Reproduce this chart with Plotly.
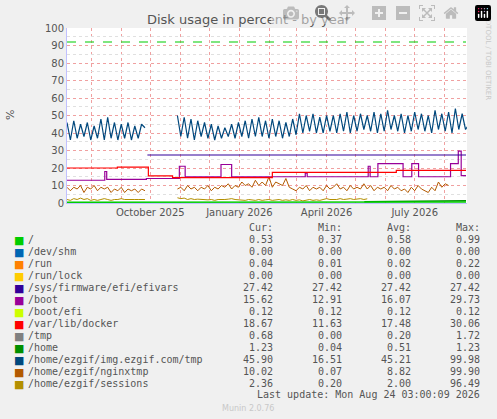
import pandas as pd
import plotly.graph_objects as go

# sampled every 84h, two segments (gap in Oct 2025)
seg1_start = "2025-07-07"
seg2_start = "2025-10-29"

imgtmp_1 = [46, 36, 47, 37, 45, 38, 46, 36, 44, 37, 48, 36, 49, 37, 46, 36, 45, 37, 46, 36, 44, 37, 45, 43]
imgtmp_2 = [50, 38, 49, 37, 48, 36, 47, 38, 46, 37, 45, 36, 44, 37, 43, 38, 45, 37, 46, 38, 47, 37, 48, 38,
            49, 38, 47, 37, 48, 38, 47, 37, 46, 38, 48, 39, 51, 40, 50, 41, 51, 40, 49, 40, 50, 41, 50, 40,
            51, 41, 52, 40, 50, 41, 51, 42, 50, 41, 52, 40, 51, 41, 53, 42, 50, 41, 51, 40, 50, 41, 52, 42,
            51, 41, 50, 40, 53, 42, 51, 41, 52, 40, 54, 42, 51, 42, 45]
nginx_1 = [9, 7, 9, 8, 10, 6, 9, 8, 10, 7, 9, 8, 9, 6, 8, 7, 9, 6, 8, 7, 8, 6, 8, 7]
nginx_2 = [8, 9, 7, 10, 8, 9, 7, 9, 8, 10, 7, 9, 8, 10, 9, 11, 8, 10, 9, 12, 10, 11, 9, 13, 10, 12, 10, 15,
           9, 12, 11, 10, 14, 9, 8, 7, 9, 8, 10, 7, 9, 8, 9, 7, 10, 8, 9, 11, 8, 9, 7, 10, 8, 9, 8, 11, 8,
           10, 7, 9, 8, 9, 7, 10, 8, 9, 7, 8, 6, 9, 7, 10, 8, 7, 6, 9, 7, 12, 9, 11, 10]
sess_1 = [2, 1.5, 2.5, 2, 2.8, 2, 2.5, 1.5, 2, 1.5, 2, 2.5, 2, 1.5, 2, 2, 2.5, 2, 2, 1.8, 2, 2, 2, 2]
sess_2 = [3, 2.5, 2.8, 2, 2.5, 2, 2.2, 2, 2, 1.8, 2, 1.5, 2, 1.8, 2, 2.2, 2.5, 2, 1.8, 2, 1.5, 2, 1.8, 1.5,
          2, 1.5, 1.8, 2, 1.5, 1.8, 2, 1.5, 1.8, 1.5, 2, 1.5, 1.8, 1.2, 1.5, 2, 1.5, 1.8, 1.5, 2, 2.5, 2,
          1.8, 2, 2.5, 2, 2.2, 2.5, 2, 2.3, 2.5, 2, 2.4]

# step series
docker_dates = ["2025-07-07", "2025-08-28", "2025-09-26", "2025-09-29", "2025-10-24", "2026-02-04", "2026-06-12", "2026-08-23"]
docker_vals = [20, 20.5, 20.5, 15.5, 14.5, 17.5, 18.7, 18.7]
boot_dates = ["2025-07-07", "2025-08-14", "2025-08-15", "2025-08-17", "2025-09-27", "2025-10-31", "2025-11-06",
              "2025-12-13", "2025-12-24", "2026-03-10", "2026-03-12", "2026-05-14", "2026-05-16", "2026-05-24",
              "2026-06-19", "2026-06-28", "2026-07-05", "2026-08-07", "2026-08-13", "2026-08-15", "2026-08-18", "2026-08-23"]
boot_vals = [13, 13, 18, 13.5, 14, 21, 15, 22, 15, 17, 15, 21, 15, 22.5, 15, 22.5, 15, 22.5, 22.5, 29.7, 15.6, 15.6]
efivars_dates = ["2025-09-28", "2026-08-23"]
efivars_vals = [27.42, 27.42]
root_dates = ["2025-07-07", "2026-08-23"]
root_vals = [0.5, 0.53]
home_dates = ["2026-05-10", "2026-06-20", "2026-08-23"]
home_vals = [0.7, 1.0, 1.23]
warn_dates = ["2025-07-07", "2026-08-23"]
warn_vals = [92, 92]

legend_names = ["/", "/dev/shm", "/run", "/run/lock", "/sys/firmware/efi/efivars", "/boot", "/boot/efi",
                "/var/lib/docker", "/tmp", "/home", "/home/ezgif/img.ezgif.com/tmp", "/home/ezgif/nginxtmp",
                "/home/ezgif/sessions"]
legend_colors = ["#00cc00", "#0066b3", "#ff8000", "#ffcc00", "#330099", "#990099", "#ccff00", "#ff0000",
                 "#808080", "#008f00", "#00487d", "#b35a00", "#b38f00"]
cur = ["0.53", "0.00", "0.04", "0.00", "27.42", "15.62", "0.12", "18.67", "0.68", "1.23", "45.90", "10.02", "2.36"]
mins = ["0.37", "0.00", "0.01", "0.00", "27.42", "12.91", "0.12", "11.63", "0.00", "0.04", "16.51", "0.07", "0.20"]
avgs = ["0.58", "0.00", "0.02", "0.00", "27.42", "16.07", "0.12", "17.48", "0.20", "0.51", "45.21", "8.82", "2.00"]
maxs = ["0.99", "0.00", "0.22", "0.00", "27.42", "29.73", "0.12", "30.06", "1.72", "1.23", "99.98", "99.90", "96.49"]


def seg(v1, v2):
    d1 = list(pd.date_range(seg1_start, periods=len(v1), freq="84h"))
    d2 = list(pd.date_range(seg2_start, periods=len(v2), freq="84h"))
    return d1 + [d1[-1] + pd.Timedelta(hours=42)] + d2, v1 + [None] + v2


fig = go.Figure()
fig.add_trace(go.Scatter(x=warn_dates, y=warn_vals, mode="lines", line=dict(color="#00cc00", width=1.2, dash="dash")))
x, y = seg(sess_1, sess_2)
fig.add_trace(go.Scatter(x=x, y=y, mode="lines", line=dict(color="#b38f00", width=1)))
x, y = seg(nginx_1, nginx_2)
fig.add_trace(go.Scatter(x=x, y=y, mode="lines", line=dict(color="#b35a00", width=1)))
x, y = seg(imgtmp_1, imgtmp_2)
fig.add_trace(go.Scatter(x=x, y=y, mode="lines", line=dict(color="#00487d", width=1.2)))
fig.add_trace(go.Scatter(x=home_dates, y=home_vals, mode="lines", line=dict(color="#008f00", width=1.5)))
fig.add_trace(go.Scatter(x=root_dates, y=root_vals, mode="lines", line=dict(color="#00cc00", width=1.5)))
fig.add_trace(go.Scatter(x=boot_dates, y=boot_vals, mode="lines", line=dict(color="#990099", width=1.2, shape="hv")))
fig.add_trace(go.Scatter(x=docker_dates, y=docker_vals, mode="lines", line=dict(color="#ff0000", width=1.2, shape="hv")))
fig.add_trace(go.Scatter(x=efivars_dates, y=efivars_vals, mode="lines", line=dict(color="#330099", width=1.2)))

mono = dict(family="DejaVu Sans Mono", size=10, color="#555555")
ann = []
hdr_y = 227
for col, xr in [("Cur:", 275), ("Min:", 344), ("Avg:", 413), ("Max:", 482)]:
    ann.append(dict(x=xr, y=hdr_y, text=col, xanchor="right"))
for i, name in enumerate(legend_names):
    yy = 239 + i * 12
    ann.append(dict(x=12, y=yy + 1, text="■", xanchor="left", font=dict(family="DejaVu Sans", size=11, color=legend_colors[i])))
    ann.append(dict(x=26, y=yy, text=name, xanchor="left"))
    for vals, xr in [(cur, 275), (mins, 344), (avgs, 413), (maxs, 482)]:
        ann.append(dict(x=xr, y=yy, text=vals[i], xanchor="right"))
ann.append(dict(x=482, y=395, text="Last update: Mon Aug 24 03:00:09 2026", xanchor="right"))
ann.append(dict(x=248, y=408, text="Munin 2.0.76", xanchor="center", font=dict(family="DejaVu Sans", size=8, color="#c8c8c8")))
ann.append(dict(x=488, y=55, text="RRDTOOL / TOBI OETIKER", xanchor="center", textangle=90,
                font=dict(family="DejaVu Sans", size=7, color="#c8c8c8")))
ann.append(dict(x=10, y=115, text="%", xanchor="center", textangle=-90, font=dict(family="DejaVu Sans", size=11, color="#555555")))

L, R, T, B = 67, 30, 28, 216
pw, ph = 497 - L - R, 419 - T - B
annotations = []
for a in ann:
    a.setdefault("font", mono)
    annotations.append(dict(a, xref="paper", yref="paper", x=(a["x"] - L) / pw, y=(419 - B - a["y"]) / ph,
                            yanchor="middle", showarrow=False))

fig.update_layout(
    width=497, height=419, showlegend=False,
    margin=dict(l=L, r=R, t=T, b=B),
    paper_bgcolor="#f0f0f0", plot_bgcolor="#ffffff",
    font=dict(family="DejaVu Sans", size=10, color="#555555"),
    title=dict(text="Disk usage in percent - by year", x=0.5, xanchor="center", y=1 - 19 / 419,
               yanchor="middle", font=dict(size=13, color="#555555")),
    annotations=annotations,
    xaxis=dict(range=["2025-07-07", "2026-08-24"], type="date",
               tickvals=["2025-10-01", "2026-01-01", "2026-04-01", "2026-07-01"],
               ticktext=["October 2025", "January 2026", "April 2026", "July 2026"],
               showgrid=False, ticks="", zeroline=False, showline=True, linecolor="#c0c0ff",
               minor=dict(dtick="M1", tick0="2025-07-01", showgrid=True, gridcolor="#f0a0a0", griddash="dot", gridwidth=1)),
    yaxis=dict(range=[0, 100], dtick=10, showgrid=True, gridcolor="#f0a0a0", griddash="dot", ticks="",
               zeroline=False, showline=True, linecolor="#c0c0ff",
               minor=dict(dtick=5, showgrid=True, gridcolor="#e0e0e0", griddash="dot")),
)
fig.write_html("out.html", post_script="document.body.style.margin='0';document.body.style.padding='0';")
